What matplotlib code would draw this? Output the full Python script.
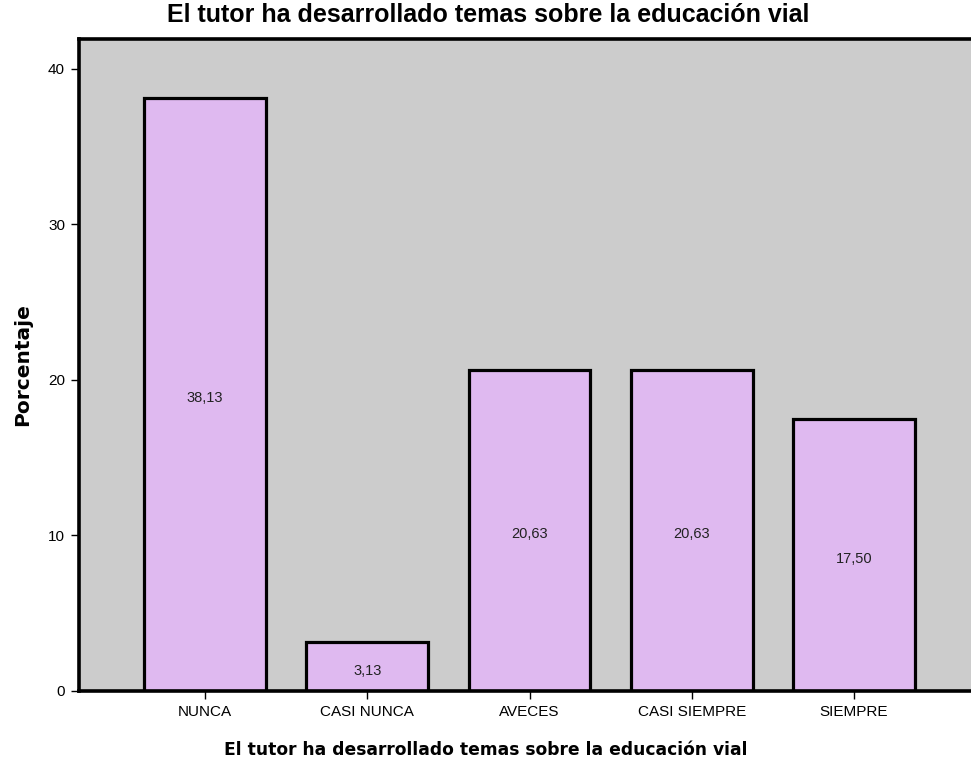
import matplotlib.pyplot as plt

categories = ['NUNCA', 'CASI NUNCA', 'AVECES', 'CASI SIEMPRE', 'SIEMPRE']
percentages = [38.13, 3.13, 20.63, 20.63, 17.50]
bar_labels = ['38,13', '3,13', '20,63', '20,63', '17,50']
y_ticks = [0, 10, 20, 30, 40]

title = 'El tutor ha desarrollado temas sobre la educación vial'

fig = plt.figure(figsize=(9.71, 7.64), dpi=100)
ax = fig.add_axes([79 / 971, 73 / 764, 1 - 79 / 971, 652 / 764])
ax.set_facecolor('#cccccc')

x = range(len(categories))
ax.bar(x, percentages, width=0.75, color='#dfb9f0', edgecolor='black', linewidth=2.3, zorder=2)

# value labels in the middle of each bar
for xi, val, lab in zip(x, percentages, bar_labels):
    ax.text(xi, val / 2 - 0.25, lab, ha='center', va='center', fontsize=10.5,
            family='Liberation Sans', color='#222222', zorder=3)

ax.set_xlim(-0.777, 4.721)
ax.set_ylim(0, 41.9)
ax.set_xticks(list(x))
ax.set_xticklabels(categories, family='Liberation Sans', fontsize=11)
ax.set_yticks(y_ticks)
ax.set_yticklabels([str(t) for t in y_ticks], family='Liberation Sans', fontsize=11)
ax.tick_params(axis='both', length=6, width=1, color='black', pad=4)

for side in ['left', 'bottom', 'top']:
    ax.spines[side].set_linewidth(2.6)
ax.spines['right'].set_visible(False)

ax.set_ylabel('Porcentaje', fontsize=14.5, fontweight='bold', family='DejaVu Sans')
ax.yaxis.set_label_coords(-0.053, 0.5)

# x label and title are centred on the (uncropped) chart, left of the figure centre
fig.text(486 / 971, 1 - 750 / 764, title, ha='center', va='center', fontsize=12.3,
         fontweight='bold', family='DejaVu Sans')
fig.text(488 / 971, 1 - 15 / 764, title, ha='center', va='center', fontsize=18,
         fontweight='bold', family='Liberation Sans')

fig.savefig('out.png', dpi=100)
